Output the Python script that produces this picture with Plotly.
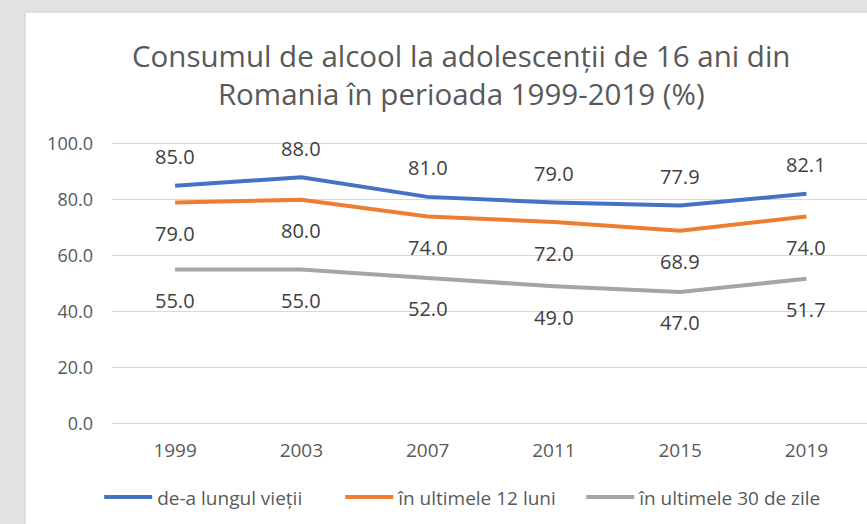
import plotly.graph_objects as go

years = ["1999", "2003", "2007", "2011", "2015", "2019"]
lifetime = [85.0, 88.0, 81.0, 79.0, 77.9, 82.1]
last_12_months = [79.0, 80.0, 74.0, 72.0, 68.9, 74.0]
last_30_days = [55.0, 55.0, 52.0, 49.0, 47.0, 51.7]

series = [
    ("de-a lungul vieții", lifetime, "#4472C4", 29),
    ("în ultimele 12 luni", last_12_months, "#ED7D31", -31),
    ("în ultimele 30 de zile", last_30_days, "#A5A5A5", -31),
]

fig = go.Figure()
for name, vals, color, shift in series:
    fig.add_trace(go.Scatter(x=years, y=vals, name=name, mode="lines",
                             line=dict(color=color, width=4)))
    # data labels, category axis -> use the index position
    for i, v in enumerate(vals):
        fig.add_annotation(x=i, y=v, text=f"{v:.1f}", showarrow=False, yshift=shift,
                           font=dict(size=20, color="#404040"))

# white card over the grey photo background
fig.add_shape(type="rect", xref="paper", yref="paper", layer="below",
              x0=-0.115, x1=1.05, y0=-0.4, y1=1.452,
              fillcolor="white", line=dict(color="#d4d4d4", width=1))

fig.update_layout(
    width=867, height=524,
    margin=dict(l=112, r=0, t=140.5, b=97.9, autoexpand=False),
    paper_bgcolor="#e2e2e2", plot_bgcolor="white",
    font=dict(family="Open Sans", color="#595959"),
    title=dict(text="Consumul de alcool la adolescenții de 16 ani din<br>Romania în perioada 1999-2019 (%)",
               x=0.532, xanchor="center", y=0.873, yanchor="middle",
               font=dict(size=29.5, color="#595959")),
    showlegend=True,
    legend=dict(orientation="h", x=-0.017, xanchor="left", y=-0.25, yanchor="middle",
                itemwidth=48, entrywidth=178,
                font=dict(size=19, color="#595959"), bgcolor="rgba(0,0,0,0)"),
)
fig.update_xaxes(type="category", range=[-0.5, 5.48], showgrid=False, showline=False,
                 ticks="", tickfont=dict(size=19), ticklabelstandoff=11)
fig.update_yaxes(range=[-1, 101], tickvals=[0, 20, 40, 60, 80, 100], tickformat=".1f",
                 showgrid=True, gridcolor="#d9d9d9", gridwidth=1, zeroline=False,
                 showline=False, tickfont=dict(size=18), ticklabelstandoff=18)

fig.write_html("out.html", config={"displayModeBar": False},
               post_script="document.body.style.margin='0px';")
